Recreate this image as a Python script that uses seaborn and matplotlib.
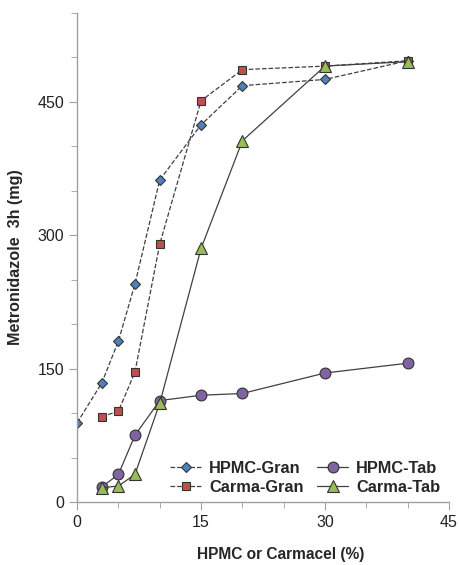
import matplotlib
matplotlib.use("Agg")
import matplotlib.pyplot as plt
import seaborn as sns
import numpy as np
import pandas as pd
from matplotlib.ticker import MultipleLocator

sns.set_style("white")
plt.rcParams['font.family'] = ['Liberation Sans', 'DejaVu Sans']

x_hpmc_gran = [0, 3, 5, 7, 10, 15, 20, 30, 40]
y_hpmc_gran = [89, 134, 181, 245, 362, 424, 468, 475, 496]

x_carma_gran = [3, 5, 7, 10, 15, 20, 30, 40]
y_carma_gran = [96, 102, 146, 290, 451, 486, 490, 496]

x_hpmc_tab = [3, 5, 7, 10, 15, 20, 30, 40]
y_hpmc_tab = [17, 31, 75, 114, 120, 122, 145, 156]

x_carma_tab = [3, 5, 7, 10, 15, 20, 30, 40]
y_carma_tab = [16, 18, 31, 111, 285, 406, 490, 495]

series = [
    ("HPMC-Gran", x_hpmc_gran, y_hpmc_gran, "D", "#4F81BD", "--", 5.6),
    ("Carma-Gran", x_carma_gran, y_carma_gran, "s", "#C0504D", "--", 5.4),
    ("HPMC-Tab", x_hpmc_tab, y_hpmc_tab, "o", "#8064A2", "-", 7.8),
    ("Carma-Tab", x_carma_tab, y_carma_tab, "^", "#9BBB59", "-", 8.2),
]

fig = plt.figure(figsize=(4.59, 5.65), dpi=100)
ax = fig.add_axes([0.168, 0.1115, 0.81, 0.866])

for name, xs, ys, mk, col, ls, ms in series:
    df = pd.DataFrame({"x": xs, "y": ys})
    sns.lineplot(data=df, x="x", y="y", ax=ax, label=name, marker=mk,
                 markersize=ms, markerfacecolor=col, markeredgecolor="#333333",
                 markeredgewidth=0.8, color="#404040", linestyle=ls,
                 linewidth=0.9, dashes=False if ls == "-" else (3, 2))

ax.set_xlim(0, 45)
ax.set_ylim(0, 550)
ax.xaxis.set_major_locator(MultipleLocator(15))
ax.xaxis.set_minor_locator(MultipleLocator(5))
ax.yaxis.set_major_locator(MultipleLocator(150))
ax.yaxis.set_minor_locator(MultipleLocator(50))

for s in ["top", "right"]:
    ax.spines[s].set_visible(False)
for s in ["left", "bottom"]:
    ax.spines[s].set_color("#a0a0a0")
    ax.spines[s].set_linewidth(1.0)

ax.tick_params(axis="both", which="major", direction="out", length=6,
               color="#a0a0a0", labelsize=11.5, labelcolor="#222222",
               left=True, bottom=True)
ax.tick_params(axis="both", which="minor", direction="out", length=4,
               color="#a0a0a0", left=True, bottom=True)

ax.set_xlabel("HPMC or Carmacel (%)", fontsize=11.2, fontweight="bold",
              labelpad=12)
ax.xaxis.label.set_x(0.548)
ax.set_ylabel("Metronidazole  3h (mg)", fontsize=11.6, fontweight="bold",
              labelpad=10)

ax.legend(ncol=2, loc="lower right", bbox_to_anchor=(0.997, 0.0),
          frameon=False, prop={"weight": "bold", "size": 11.8},
          handlelength=1.9, columnspacing=0.8, handletextpad=0.5,
          labelspacing=0.25, borderaxespad=0.05)

fig.savefig("out.png", dpi=100)
